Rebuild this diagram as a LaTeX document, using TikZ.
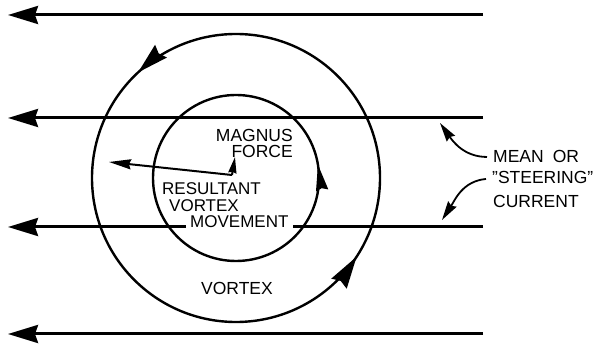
\documentclass[tikz,border=0pt]{standalone}
\usepackage{fontspec}
\setmainfont{Liberation Sans}
\usetikzlibrary{arrows.meta,decorations.markings}
\tikzset{
  flow/.style={line width=3pt,-{Stealth[length=30pt,width=18pt,inset=3pt]}},
  bar/.style={line width=3pt},
  ring/.style={line width=2.4pt},
  lbl/.style={inner sep=0pt,font=\fontsize{17.5pt}{20pt}\selectfont},
  midlbl/.style={inner sep=0pt,font=\fontsize{17pt}{20pt}\selectfont},
  leader/.style={line width=1.8pt,-{Stealth[length=19pt,width=10pt,inset=2pt]}},
  vec/.style={line width=2pt}
}
\begin{document}
\begin{tikzpicture}[x=1pt,y=1pt]
\useasboundingbox (0,0) rectangle (599,345);
% text
\node[midlbl,inner xsep=4pt,anchor=base west] (mov) at (186,117) {MOVEMENT};
\node[midlbl,anchor=base west] (res) at (162,150) {RESULTANT};
\node[midlbl,anchor=base west] (vor) at (169,133.5) {VORTEX};
\node[lbl,anchor=base east] (mag) at (293,203) {MAGNUS};
\node[lbl,anchor=base east] (frc) at (293,187) {FORCE};
\node[lbl,anchor=base] (vtx) at (237,50) {VORTEX};
\node[lbl,anchor=base west] (mean) at (493,182) {MEAN\hspace{9pt}OR};
\node[lbl,anchor=base west] (steer) at (492,161) {"STEERING"};
\node[lbl,anchor=base west] (cur) at (493,137) {CURRENT};
% steering current lines
\coordinate (r1) at (483,330); \coordinate (l1) at (8,330);
\coordinate (r2) at (483,227); \coordinate (l2) at (8,227);
\coordinate (r3) at (483,118); \coordinate (l3) at (8,118);
\coordinate (r4) at (483,11);  \coordinate (l4) at (8,11);
\draw[flow] (r1) -- (l1);
\draw[flow] (r2) -- (l2);
\draw[bar] (r3) -- (mov.east |- r3);
\draw[flow] (mov.west |- r3) -- (l3);
\draw[flow] (r4) -- (l4);
% vortex circles
\coordinate (c) at (236,167);
\draw[ring,decoration={markings,
   mark=at position 0.369 with {\arrow{Stealth[length=31pt,width=17pt,inset=3pt]}},
   mark=at position 0.908 with {\arrow{Stealth[length=32pt,width=18pt,inset=3pt]}}},
   postaction={decorate}] (c) circle (144pt);
\draw[ring,decoration={markings,
   mark=at position 0.026 with {\arrow{Stealth[length=26pt,width=12pt,inset=2pt]}}},
   postaction={decorate}] (c) circle (83pt);
% vectors
\coordinate (m) at (232,170);
\coordinate (mt) at (235,188);
\coordinate (rt) at (109,183);
\draw[vec,-{Stealth[length=22pt,width=10pt,inset=2pt]}] (m) -- (rt);
\draw[vec,-{Stealth[length=16pt,width=8pt,inset=1pt]}] (m) -- (mt);
% leaders
\coordinate (ut) at (440,222);
\coordinate (lt) at (442,125);
\draw[leader] ([xshift=-6pt]mean.west) to[out=180,in=-55] (ut);
\draw[leader] ([xshift=-6pt,yshift=-1pt]steer.west) to[out=185,in=57] (lt);
\end{tikzpicture}
\end{document}
